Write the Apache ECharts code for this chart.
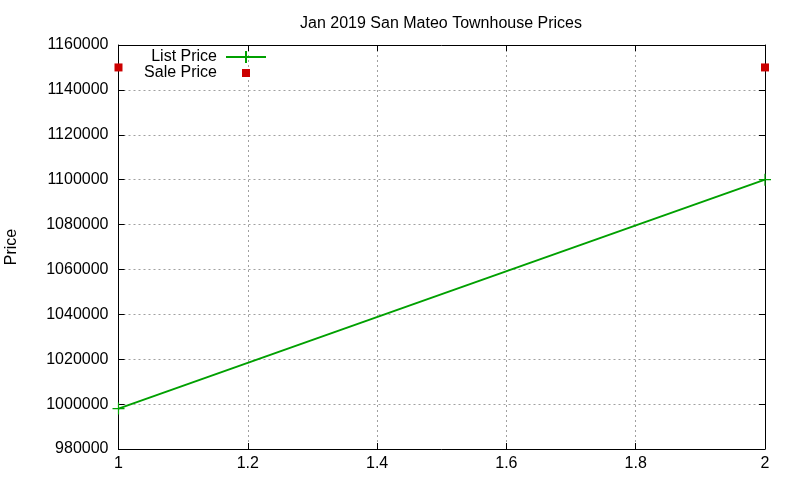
<!DOCTYPE html>
<html><head><meta charset="utf-8">
<script src="https://cdn.jsdelivr.net/npm/echarts@6/dist/echarts.min.js"></script>
<style>html,body{margin:0;padding:0;background:#fff}#c{width:800px;height:480px}</style>
</head><body><div id="c"></div>
<script>
const title = 'Jan 2019 San Mateo Townhouse Prices';
const yAxisName = 'Price';
const listX = [1, 2];
const listPrice = [998000, 1100000];
const saleX = [1, 2];
const salePrice = [1150000, 1150000];
const xTicks = [1, 1.2, 1.4, 1.6, 1.8, 2];
const yTicks = [980000, 1000000, 1020000, 1040000, 1060000, 1080000, 1100000, 1120000, 1140000, 1160000];

const font = 'Liberation Sans, Arial, sans-serif';
const plus = 'path://M-0.1,-1L0.1,-1L0.1,-0.1L1,-0.1L1,0.1L0.1,0.1L0.1,1L-0.1,1L-0.1,0.1L-1,0.1L-1,-0.1L-0.1,-0.1Z';
// legend icons drawn in a 40x14 box
const listIcon = 'path://M0,6L19,6L19,1L21,1L21,6L40,6L40,8L21,8L21,13L19,13L19,8L0,8Z M0,0L0.01,0L0,0.01Z M40,14L39.99,14L40,13.99Z';
const saleIcon = 'path://M16,3L24,3L24,11L16,11Z M0,0L0.01,0L0,0.01Z M40,14L39.99,14L40,13.99Z';
const gridLine = {show: true, lineStyle: {color: '#a0a0a0', type: [2, 3], width: 1}};
const chart = echarts.init(document.getElementById('c'));
chart.setOption({
  animation: false,
  backgroundColor: '#fff',
  title: {text: title, left: 436, top: 11, textAlign: 'center',
    textStyle: {fontFamily: font, fontSize: 16, fontWeight: 'normal', color: '#000'}},
  grid: {left: 118.5, right: 35, top: 45, bottom: 31, containLabel: false, outerBoundsMode: 'none'},
  legend: {
    right: 534, top: 49, orient: 'vertical', align: 'right', itemGap: 0, padding: 0,
    itemWidth: 40, itemHeight: 14,
    textStyle: {fontFamily: font, fontSize: 16, color: '#000', padding: [0, 4, 0, 0]},
    data: [
      {name: 'List Price', icon: listIcon, itemStyle: {color: '#00a000'}},
      {name: 'Sale Price', icon: saleIcon, itemStyle: {color: '#cc0000'}}
    ]
  },
  xAxis: [{
    type: 'value', min: 1, max: 2, interval: 0.2,
    axisLine: {show: true, lineStyle: {color: '#000', width: 1}},
    axisTick: {show: true, inside: true, length: 6, lineStyle: {color: '#000'}},
    axisLabel: {fontFamily: font, fontSize: 16, color: '#000', margin: 7,
      formatter: v => String(Math.round(v * 10) / 10)},
    splitLine: gridLine
  }, {
    type: 'value', min: 1, max: 2, interval: 0.2, position: 'top',
    axisLine: {show: true, lineStyle: {color: '#000', width: 1}},
    axisTick: {show: true, inside: true, length: 6, lineStyle: {color: '#000'}},
    axisLabel: {show: false}, splitLine: {show: false}
  }],
  yAxis: [{
    type: 'value', min: 980000, max: 1160000, interval: 20000,
    name: yAxisName, nameLocation: 'middle', nameGap: 99, nameRotate: 90,
    nameTextStyle: {fontFamily: font, fontSize: 16, color: '#000'},
    axisLine: {show: true, lineStyle: {color: '#000', width: 1}},
    axisTick: {show: true, inside: true, length: 6, lineStyle: {color: '#000'}},
    axisLabel: {fontFamily: font, fontSize: 16, color: '#000', margin: 10,
      formatter: v => String(v)},
    splitLine: gridLine
  }, {
    type: 'value', min: 980000, max: 1160000, interval: 20000, position: 'right',
    axisLine: {show: true, lineStyle: {color: '#000', width: 1}},
    axisTick: {show: true, inside: true, length: 6, lineStyle: {color: '#000'}},
    axisLabel: {show: false}, splitLine: {show: false}
  }],
  series: [{
    name: 'List Price', type: 'line',
    data: listX.map((x, i) => [x, listPrice[i]]),
    symbol: plus, symbolSize: 12, showAllSymbol: true,
    lineStyle: {color: '#00a000', width: 2},
    itemStyle: {color: '#00a000'},
    clip: false, z: 3
  }, {
    name: 'Sale Price', type: 'scatter',
    data: saleX.map((x, i) => [x, salePrice[i]]),
    symbol: 'rect', symbolSize: 8,
    itemStyle: {color: '#cc0000', opacity: 1},
    clip: false, z: 4
  }]
});
</script></body></html>
